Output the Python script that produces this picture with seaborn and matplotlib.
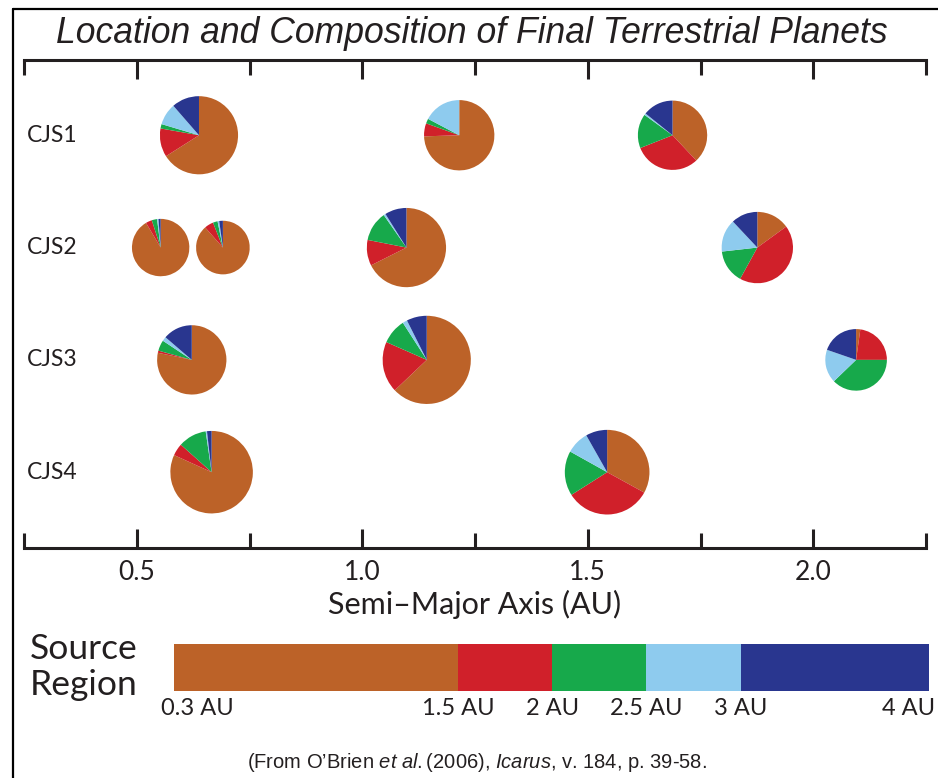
import numpy as np
import matplotlib
matplotlib.use("Agg")
import matplotlib.pyplot as plt
from matplotlib.lines import Line2D
import seaborn as sns

# ---- data -------------------------------------------------------------
systems = ["CJS1", "CJS2", "CJS3", "CJS4"]

# one entry per final planet
planet_system = ["CJS1", "CJS1", "CJS1",
                 "CJS2", "CJS2", "CJS2", "CJS2",
                 "CJS3", "CJS3", "CJS3",
                 "CJS4", "CJS4"]
semi_major_axis = [0.638, 1.215, 1.688,
                   0.553, 0.691, 1.098, 1.876,
                   0.622, 1.143, 2.095,
                   0.666, 1.543]
planet_mass = [0.96, 0.70, 0.67,
               0.38, 0.31, 1.00, 0.73,
               0.67, 1.38, 0.47,
               1.13, 1.22]

# fraction of each planet's material by source region
frac_03_15 = [0.660, 0.745, 0.380, 0.915, 0.885, 0.676, 0.150, 0.783, 0.629, 0.022, 0.818, 0.330]
frac_15_20 = [0.118, 0.060, 0.310, 0.035, 0.055, 0.105, 0.430, 0.010, 0.187, 0.228, 0.048, 0.330]
frac_20_25 = [0.018, 0.022, 0.160, 0.030, 0.028, 0.122, 0.152, 0.050, 0.093, 0.378, 0.111, 0.171]
frac_25_30 = [0.090, 0.173, 0.008, 0.008, 0.010, 0.008, 0.148, 0.020, 0.017, 0.175, 0.005, 0.087]
frac_30_40 = [0.114, 0.000, 0.142, 0.012, 0.022, 0.089, 0.120, 0.137, 0.074, 0.197, 0.018, 0.082]

region_edges = [0.3, 1.5, 2.0, 2.5, 3.0, 4.0]
region_edge_labels = ["0.3 AU", "1.5 AU", "2 AU", "2.5 AU", "3 AU", "4 AU"]
region_colors = ["#BC6228", "#D0202A", "#17A94B", "#8ECBEE", "#29368F"]

x_ticks = [0.5, 1.0, 1.5, 2.0]
x_tick_labels = ["0.5", "1.0", "1.5", "2.0"]
x_minor_ticks = [0.25, 0.75, 1.25, 1.75, 2.25]

# ---- style ------------------------------------------------------------
sns.set_theme(style="white")
plt.rcParams["font.family"] = ["Lato", "DejaVu Sans"]
plt.rcParams["mathtext.fontset"] = "custom"
plt.rcParams["mathtext.rm"] = "Liberation Sans"
plt.rcParams["mathtext.it"] = "Liberation Sans:italic"

INK = "#231F20"
W, H = 938, 778
fig = plt.figure(figsize=(W / 100, H / 100), dpi=100)
fig.patch.set_facecolor("white")

# ---- main panel -------------------------------------------------------
ax = fig.add_axes([24 / W, 1 - 548 / H, 902 / W, 488 / H])
ax.set_facecolor("none")
ax.set_xlim(0.25, 2.25)
ax.set_ylim(3.675, -0.67)
sns.despine(ax=ax, left=True, right=True, top=False, bottom=False)
for side in ("top", "bottom"):
    ax.spines[side].set_linewidth(2.2)
    ax.spines[side].set_color(INK)
ax.set_xticks(x_ticks)
ax.set_xticklabels(x_tick_labels)
ax.set_xticks(x_minor_ticks, minor=True)
ax.set_yticks([])
ax.tick_params(axis="x", which="major", direction="in", length=13.7, width=2.2,
               color=INK, top=True, bottom=True, labeltop=False, pad=9,
               labelsize=19, labelcolor=INK)
ax.tick_params(axis="x", which="minor", direction="in", length=10.5, width=2.2,
               color=INK, top=True, bottom=True)
ax.set_xlabel("Semi\u2013Major Axis (AU)", fontsize=22, color=INK, labelpad=3)

row_of = {s: i for i, s in enumerate(systems)}
for s in systems:
    ax.annotate(s, xy=(0.25, row_of[s]), xytext=(2, 0), textcoords="offset points",
                ha="left", va="center", fontsize=16.5, color=INK)

# pies, sized by planet mass (radius ~ mass^(1/3))
px_per_unit_radius = 40.0
to_fig = fig.transFigure.inverted()
for sysname, a, m, f0, f1, f2, f3, f4 in zip(planet_system, semi_major_axis, planet_mass,
                                              frac_03_15, frac_15_20, frac_20_25,
                                              frac_25_30, frac_30_40):
    r = px_per_unit_radius * m ** (1 / 3)
    cx, cy = to_fig.transform(ax.transData.transform((a, row_of[sysname])))
    w, h = 2 * r / W, 2 * r / H
    pax = fig.add_axes([cx - w / 2, cy - h / 2, w, h])
    pax.pie([f0, f1, f2, f3, f4], colors=region_colors, startangle=90,
            counterclock=False, wedgeprops=dict(linewidth=0))
    pax.set_xlim(-1.01, 1.01)
    pax.set_ylim(-1.01, 1.01)
    pax.set_aspect("equal")
    pax.axis("off")

# ---- source-region key ------------------------------------------------
lax = fig.add_axes([174 / W, 1 - 691 / H, 755 / W, 47 / H])


def _key_fwd(x):
    return np.interp(x, [0.3, 1.5, 4.0], [0.0, 0.376, 1.0])


def _key_inv(u):
    return np.interp(u, [0.0, 0.376, 1.0], [0.3, 1.5, 4.0])


lax.set_xscale("function", functions=(_key_fwd, _key_inv))
for lo, hi, c in zip(region_edges[:-1], region_edges[1:], region_colors):
    lax.barh(0, hi - lo, left=lo, height=1.0, color=c, linewidth=0)
lax.set_xlim(0.3, 4.0)
lax.set_ylim(-0.5, 0.5)
lax.axis("off")
n = len(region_edges)
for i, (e, lab) in enumerate(zip(region_edges, region_edge_labels)):
    if i == 0:
        ha, dx = "left", -9.4
    elif i == n - 1:
        ha, dx = "right", 4.3
    else:
        ha, dx = "center", 0
    lax.annotate(lab, xy=(e, -0.5), xytext=(dx, -12.5), textcoords="offset points",
                 ha=ha, va="center", fontsize=17, color=INK, annotation_clip=False)

fig.text(30 / W, 1 - 667 / H, "Source\nRegion", ha="left", va="center",
         fontsize=25.5, linespacing=1.12, color=INK)

# ---- title, credit, frame ----------------------------------------------
fig.text(471.5 / W, 1 - 43 / H, "Location and Composition of Final Terrestrial Planets",
         ha="center", va="baseline", fontsize=25.6, style="italic",
         family="Liberation Sans", color=INK)

fig.text(477 / W, 1 - 762 / H,
         r"(From O’Brien $\mathit{et}$ $\mathit{al.}$(2006), $\mathit{Icarus}$, v. 184, p. 39-58.",
         ha="center", va="center", fontsize=14.5, family="Liberation Sans", color=INK)

fig.add_artist(Line2D([13 / W, 13 / W], [0, 1 - 9 / H], transform=fig.transFigure,
                      lw=1.6, color="black"))
fig.add_artist(Line2D([13 / W, 1], [1 - 9 / H, 1 - 9 / H], transform=fig.transFigure,
                      lw=1.6, color="black"))

fig.savefig("out.png", dpi=100, facecolor="white")
